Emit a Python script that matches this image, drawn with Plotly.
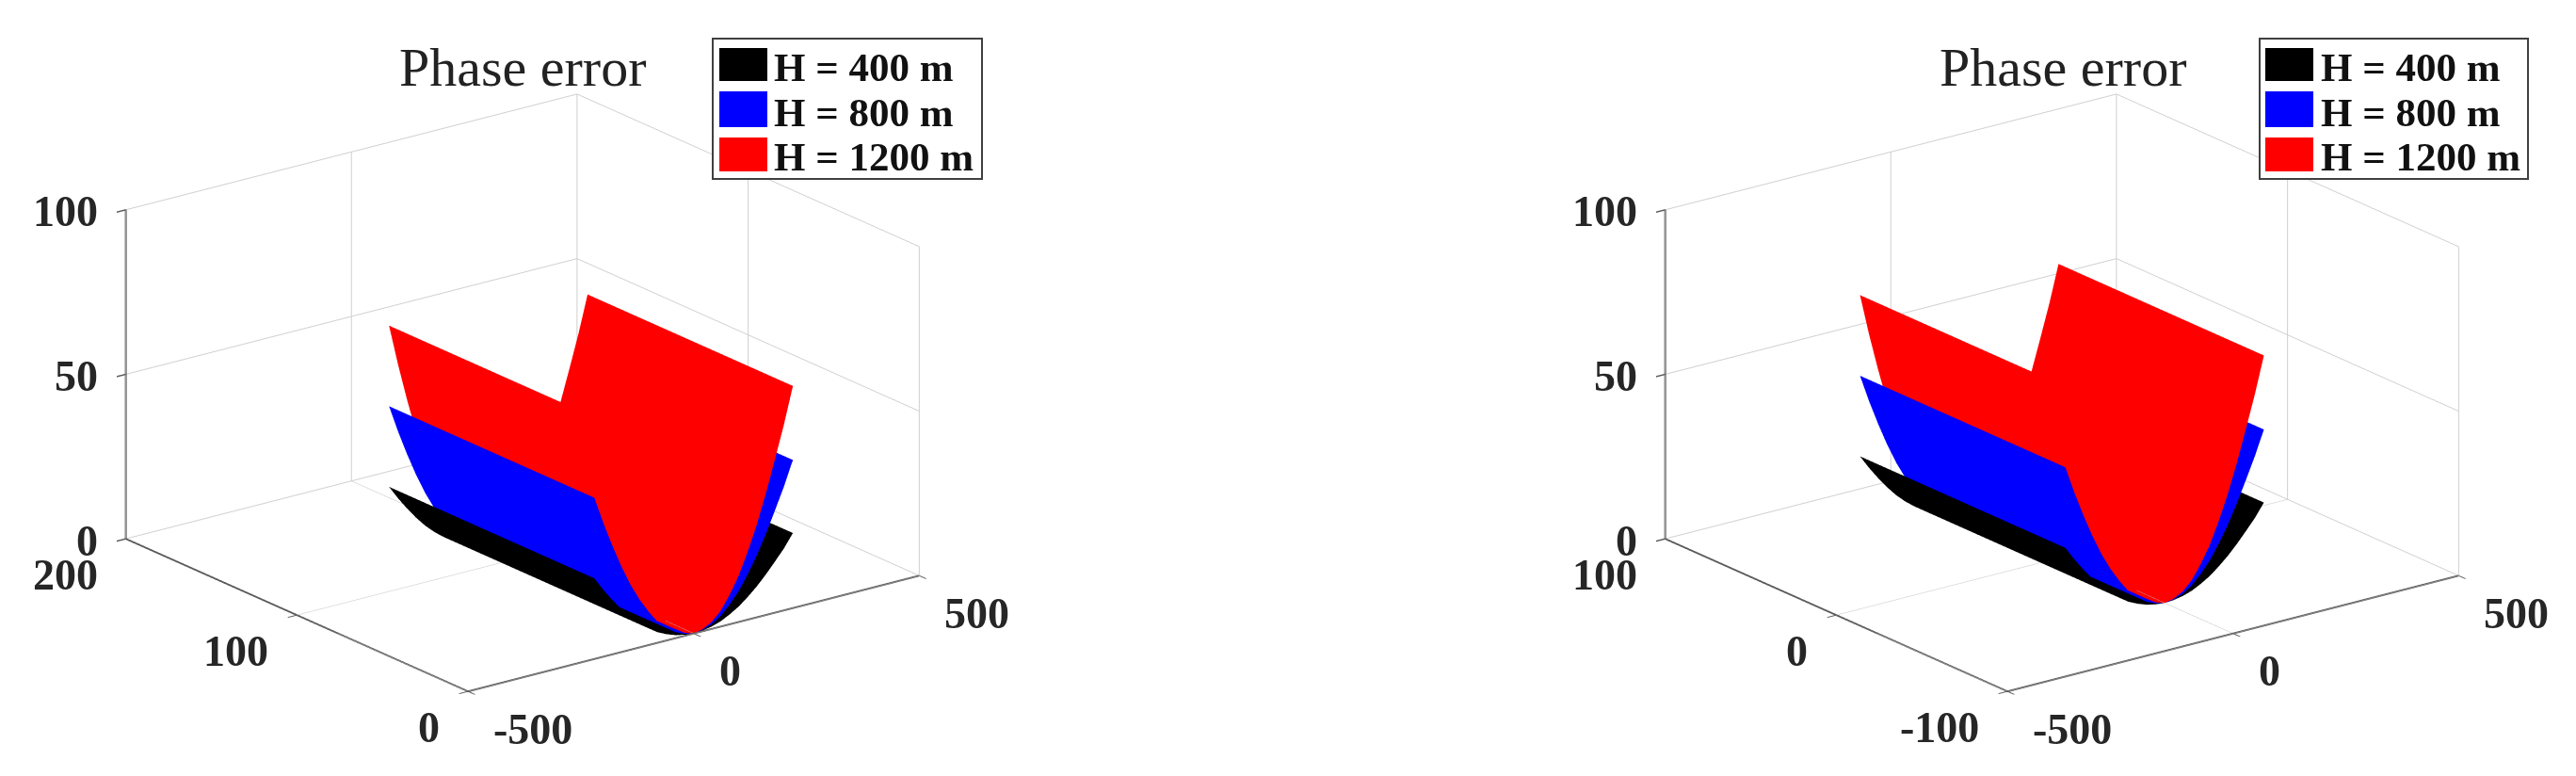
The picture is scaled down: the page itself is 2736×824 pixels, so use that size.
import plotly.graph_objects as go

W, H = 2736, 824

x_vals = [-220,-200,-180,-160,-140,-120,-100,-80,-60,-40,-20,0,20,40,60,80,100,120,140,160,180,200,220]
y_left = [0, 120]
y_right = [-60, 60]
z_400 = [24.5,20.3,16.5,13.0,9.9,7.3,5.1,3.2,1.9,0.9,0.3,0.0,0.2,0.7,1.6,3.0,4.7,6.9,9.4,12.3,15.5,18.8,22.8]
z_800 = [49.0,40.6,33.0,26.0,19.8,14.6,10.2,6.4,3.8,1.8,0.6,0.0,0.4,1.4,3.2,6.0,9.4,13.8,18.8,24.6,31.0,37.6,45.0]
z_1200 = [73.5,60.9,49.5,39.0,29.7,21.9,15.3,9.6,5.7,2.7,0.9,0.0,0.6,2.1,4.8,9.0,14.1,20.7,28.2,36.9,46.5,56.4,67.5]

series_names = ["H = 400 m", "H = 800 m", "H = 1200 m"]
series_colors = ["#000000", "#0000ff", "#ff0000"]
series_z = [z_400, z_800, z_1200]

x_ticks = [-500, 0, 500]
y_ticks_left = [0, 100, 200]
y_ticks_right = [-100, 0, 100]
z_ticks = [0, 50, 100]

FONT = "Liberation Serif"
TICK = dict(family=FONT, size=46, color="#262626")

fig = go.Figure()
for scene, ys in (("scene", y_left), ("scene2", y_right)):
    for name, color, z in zip(series_names, series_colors, series_z):
        fig.add_trace(go.Surface(
            x=x_vals, y=ys, z=[z, z], scene=scene, name=name,
            colorscale=[[0, color], [1, color]], showscale=False,
            lighting=dict(ambient=1, diffuse=0, specular=0, roughness=1, fresnel=0),
            hoverinfo="skip",
        ))

def axis(rng, ticks):
    return dict(range=rng, tickvals=ticks, ticktext=[""] * len(ticks),
                title=dict(text=""), showbackground=False, showgrid=True,
                gridcolor="#cfcfcf", gridwidth=2, zeroline=False, showspikes=False,
                showline=True, linecolor="#5a5a5a", linewidth=4,
                ticks="outside", ticklen=12, tickcolor="#5a5a5a", tickwidth=3,
                showticklabels=False, mirror=False)

def scene_layout(xd, yrng, yticks):
    labels = []
    for t in z_ticks:
        labels.append(dict(x=-500, y=yrng[1], z=t, text=f"<b>{t}</b>", showarrow=False, xanchor="right",
                           yanchor="middle", xshift=-28, yshift=-2, font=TICK))
    for t in yticks:
        labels.append(dict(x=-500, y=t, z=0, text=f"<b>{t}</b>", showarrow=False, xanchor="right",
                           yanchor="middle", xshift=-28, yshift=-38, font=TICK))
    for t in x_ticks:
        labels.append(dict(x=t, y=yrng[0], z=0, text=f"<b>{t}</b>", showarrow=False, xanchor="left",
                           yanchor="middle", xshift=25, yshift=-40, font=TICK))
    return dict(
        domain=dict(x=xd, y=[0, 1]),
        xaxis=axis([-500, 500], x_ticks),
        yaxis=axis(yrng, yticks),
        zaxis=axis([0, 100], z_ticks),
        aspectmode="manual", aspectratio=dict(x=1.46, y=1.46, z=0.901),
        annotations=labels,
        camera=dict(projection=dict(type="orthographic"),
                    eye=dict(x=-0.534, y=-0.712, z=0.312),
                    center=dict(x=0.0024, y=-0.0048, z=-0.0068), up=dict(x=0, y=0, z=1)),
    )

shapes, annotations = [], []
def legend_block(box, swatch_x, text_x, title_x):
    x0, y0, x1, y1 = box
    shapes.append(dict(type="rect", xref="paper", yref="paper", x0=x0/W, x1=x1/W,
                       y0=1-y0/H, y1=1-y1/H, line=dict(color="#404040", width=2),
                       fillcolor="white"))
    for name, color, (s0, s1), yc in zip(series_names, series_colors,
                                         [(43, 78), (89, 127), (138, 174)], [63, 111, 158]):
        shapes.append(dict(type="rect", xref="paper", yref="paper",
                           x0=swatch_x[0]/W, x1=swatch_x[1]/W, y0=1-s0/H, y1=1-s1/H,
                           line=dict(width=0), fillcolor=color))
        annotations.append(dict(text=f"<b>{name}</b>", xref="paper", yref="paper",
                                x=text_x/W, y=1-yc/H, xanchor="left", yanchor="middle",
                                showarrow=False, font=dict(family=FONT, size=43, color="#111111")))
    annotations.append(dict(text="Phase error", xref="paper", yref="paper",
                            x=title_x/W, y=1-63/H, xanchor="center", yanchor="middle",
                            showarrow=False, font=dict(family=FONT, size=58, color="#222222")))

legend_block((749, 33, 1035, 182), (756, 807), 812, 547)
legend_block((2392, 33, 2677, 182), (2398, 2449), 2455, 2183)

fig.update_layout(
    width=W, height=H, margin=dict(l=0, r=0, t=0, b=0),
    paper_bgcolor="white", showlegend=False, shapes=shapes, annotations=annotations,
    scene=scene_layout([0, 0.4013], [0, 200], y_ticks_left),
    scene2=scene_layout([0.5976, 0.9989], [-100, 100], y_ticks_right),
)
fig.write_html("out.html", config=dict(displayModeBar=False))
